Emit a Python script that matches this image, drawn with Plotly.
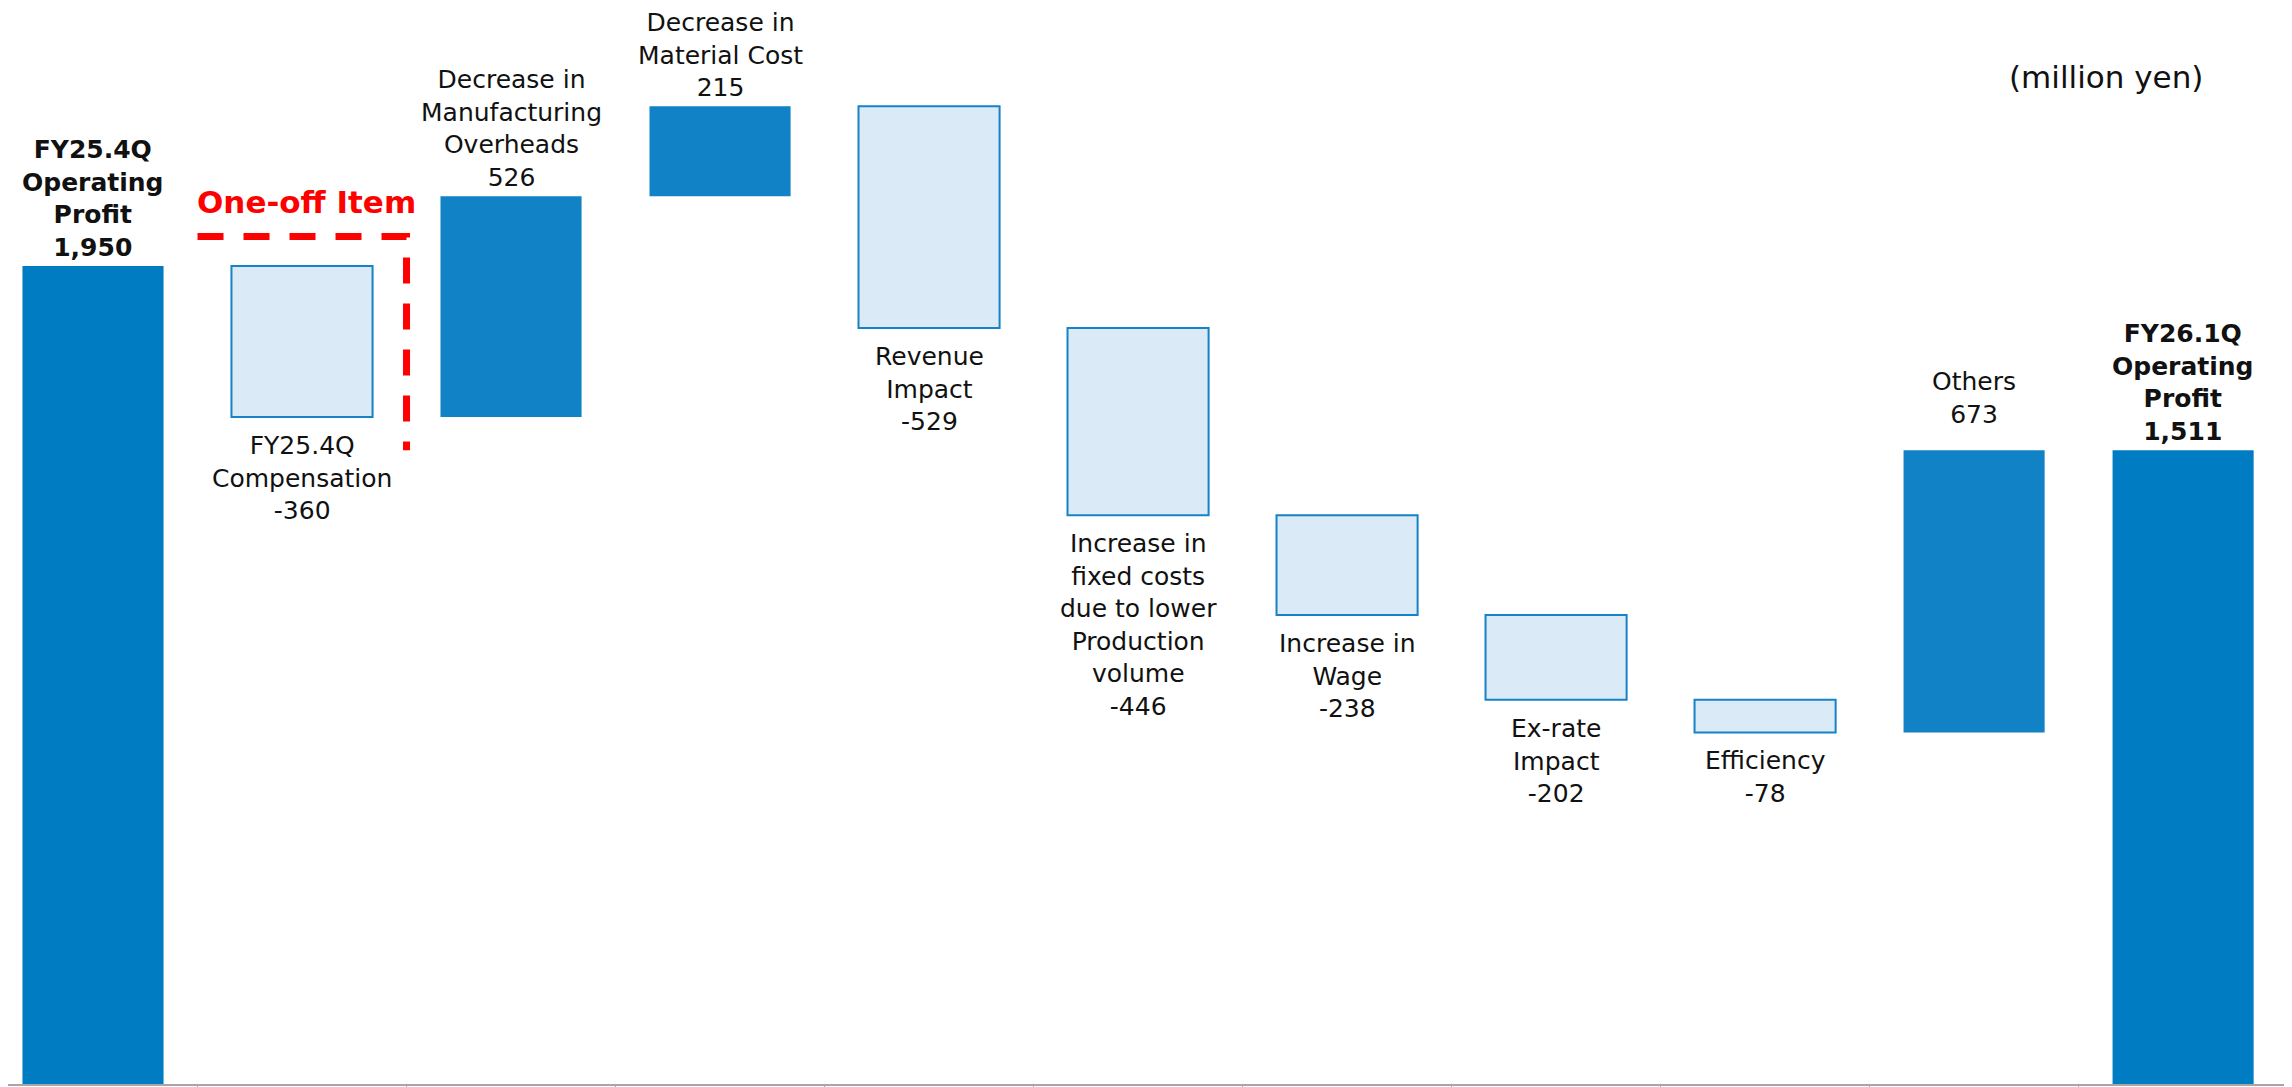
import plotly.graph_objects as go

# ---------------- data ----------------
categories = ["FY25.4Q Operating Profit", "FY25.4Q Compensation",
              "Decrease in Manufacturing Overheads", "Decrease in Material Cost",
              "Revenue Impact", "Increase in fixed costs due to lower Production volume",
              "Increase in Wage", "Ex-rate Impact", "Efficiency", "Others",
              "FY26.1Q Operating Profit"]
measures = ["absolute", "relative", "relative", "relative", "relative", "relative",
            "relative", "relative", "relative", "relative", "absolute"]
values = [1950, -360, 526, 215, -529, -446, -238, -202, -78, 673, 1511]
label_text = ["FY25.4Q<br>Operating<br>Profit", "FY25.4Q<br>Compensation",
              "Decrease in<br>Manufacturing<br>Overheads", "Decrease in<br>Material Cost",
              "Revenue<br>Impact",
              "Increase in<br>fixed costs<br>due to lower<br>Production<br>volume",
              "Increase in<br>Wage", "Ex-rate<br>Impact", "Efficiency", "Others",
              "FY26.1Q<br>Operating<br>Profit"]
unit_text = "(million yen)"
oneoff_text = "One-off Item"
oneoff_top = 2020   # top of the dashed one-off bracket (value scale)

# ---------------- styles ----------------
FONT = "DejaVu Sans"
TOTAL_C = "#007CC2"
INC_C = "#1182C5"
DEC_FILL = "#DAEAF6"
DEC_LINE = "#1682C8"

# page body has an 8px default margin -> figure is sized to fit the window
FIG_W, FIG_H = 2284, 1079

x = list(range(len(categories)))
boundaries = [i + 0.5 for i in x]

fig = go.Figure(go.Waterfall(
    x=x, y=values, measure=measures,
    width=0.675,
    connector=dict(visible=False),
    totals=dict(marker=dict(color=TOTAL_C, line=dict(width=0, color=TOTAL_C))),
    increasing=dict(marker=dict(color=INC_C, line=dict(width=0, color=INC_C))),
    decreasing=dict(marker=dict(color=DEC_FILL, line=dict(width=2, color=DEC_LINE))),
    hoverinfo="skip",
))

level = 0
annotations = []
for i, (m, v) in enumerate(zip(measures, values)):
    if m == "absolute":
        lo, hi = 0, v
        level = v
    else:
        start = level
        level = level + v
        lo, hi = min(start, level), max(start, level)
    num = f"{v:,}"
    txt = f"{label_text[i]}<br>{num}"
    if m == "absolute":
        txt = "<b>" + txt.replace("<br>", "</b><br><b>") + "</b>"
    if v >= 0 or m == "absolute":
        shift = 19 if i == 9 else 2
        annotations.append(dict(x=i, y=hi, xref="x", yref="y", text=txt,
                                showarrow=False, yanchor="bottom", yshift=shift,
                                align="center",
                                font=dict(family=FONT, size=25, color="#111111")))
    else:
        annotations.append(dict(x=i, y=lo, xref="x", yref="y", text=txt,
                                showarrow=False, yanchor="top", yshift=-12,
                                align="center",
                                font=dict(family=FONT, size=25, color="#111111")))

annotations.append(dict(x=0.9186, y=0.936, xref="paper", yref="paper", text=unit_text,
                        showarrow=False, xanchor="center", yanchor="middle",
                        font=dict(family=FONT, size=31, color="#111111")))
annotations.append(dict(x=1.02, y=2103, xref="x", yref="y", text=f"<b>{oneoff_text}</b>",
                        showarrow=False, xanchor="center", yanchor="middle",
                        font=dict(family=FONT, size=31, color="#FF0000")))

final_top = values[-1]
fig.add_shape(type="path", xref="x", yref="y",
              path=f"M 0.5,{oneoff_top} L 1.5,{oneoff_top} L 1.5,{final_top}",
              line=dict(color="#FF0000", width=7, dash="26px,20px"))

fig.update_layout(
    width=FIG_W, height=FIG_H,
    margin=dict(l=0, r=0, t=0, b=3),
    paper_bgcolor="white", plot_bgcolor="white",
    showlegend=False,
    annotations=annotations,
    xaxis=dict(range=[-0.4067, 10.521], showgrid=False, zeroline=False,
               showticklabels=False, showline=True, linecolor="#A6A6A6", linewidth=2,
               ticks="outside", ticklen=4, tickcolor="#A6A6A6", tickwidth=1,
               tickmode="array", tickvals=boundaries, fixedrange=True),
    yaxis=dict(range=[0, 2565], visible=False, showgrid=False, zeroline=False),
)

fig.write_html("out.html")
